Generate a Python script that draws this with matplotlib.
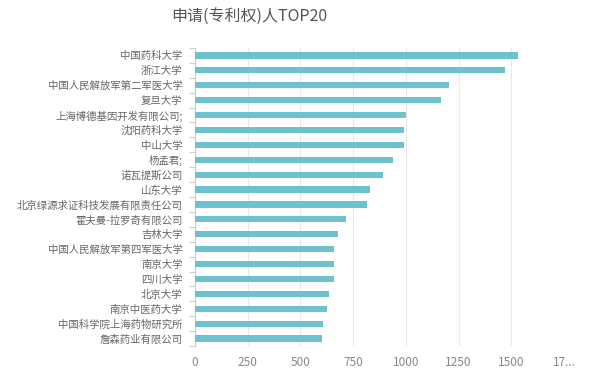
import matplotlib.pyplot as plt
import numpy as np

plt.rcParams['font.family'] = ['Noto Sans CJK SC', 'DejaVu Sans']

# data (top to bottom)
applicants = ['中国药科大学', '浙江大学', '中国人民解放军第二军医大学', '复旦大学',
              '上海博德基因开发有限公司;', '沈阳药科大学', '中山大学', '杨孟君;',
              '诺瓦提斯公司', '山东大学', '北京绿源求证科技发展有限责任公司',
              '霍夫曼-拉罗奇有限公司', '吉林大学', '中国人民解放军第四军医大学',
              '南京大学', '四川大学', '北京大学', '南京中医药大学',
              '中国科学院上海药物研究所', '詹森药业有限公司']
counts = [1533, 1470, 1205, 1166, 1001, 993, 993, 937, 891, 828, 815,
          717, 677, 660, 660, 660, 633, 626, 609, 604]
x_ticks = [0, 250, 500, 750, 1000, 1250, 1500, 1750]
x_tick_labels = ['0', '250', '500', '750', '1000', '1250', '1500', '17...']

bar_color = '#6cc3cd'
text_color = '#666666'

fig = plt.figure(figsize=(6.04, 3.77), dpi=100)
ax = fig.add_axes([0.3228, 0.0822, 0.934 - 0.3228, 0.7905])

y = np.arange(len(applicants))
ax.barh(y, counts, height=0.42, color=bar_color, zorder=3)

ax.set_ylim(len(applicants) - 0.5, -0.5)
ax.set_xlim(0, 1750)

ax.set_yticks(y)
ax.set_yticklabels(applicants, fontsize=7.5, color=text_color)
ax.set_yticks(np.arange(len(applicants) + 1) - 0.5, minor=True)
ax.tick_params(axis='y', which='major', length=0, pad=9)
ax.tick_params(axis='y', which='minor', length=4, color='#cccccc', width=0.8)

ax.set_xticks(x_ticks)
ax.set_xticklabels(x_tick_labels, fontsize=8.5, color='#888888')
ax.tick_params(axis='x', length=0, pad=7)
ax.grid(axis='x', color='#e8e8e8', linewidth=0.8, zorder=0)

for side in ['top', 'right', 'bottom']:
    ax.spines[side].set_visible(False)
ax.spines['left'].set_color('#cccccc')
ax.spines['left'].set_linewidth(0.8)

fig.text(0.412, 0.955, '申请(专利权)人TOP20', fontsize=11.5, color='#555555',
         ha='center', va='center')

fig.savefig('out.png', dpi=100, facecolor='white')
